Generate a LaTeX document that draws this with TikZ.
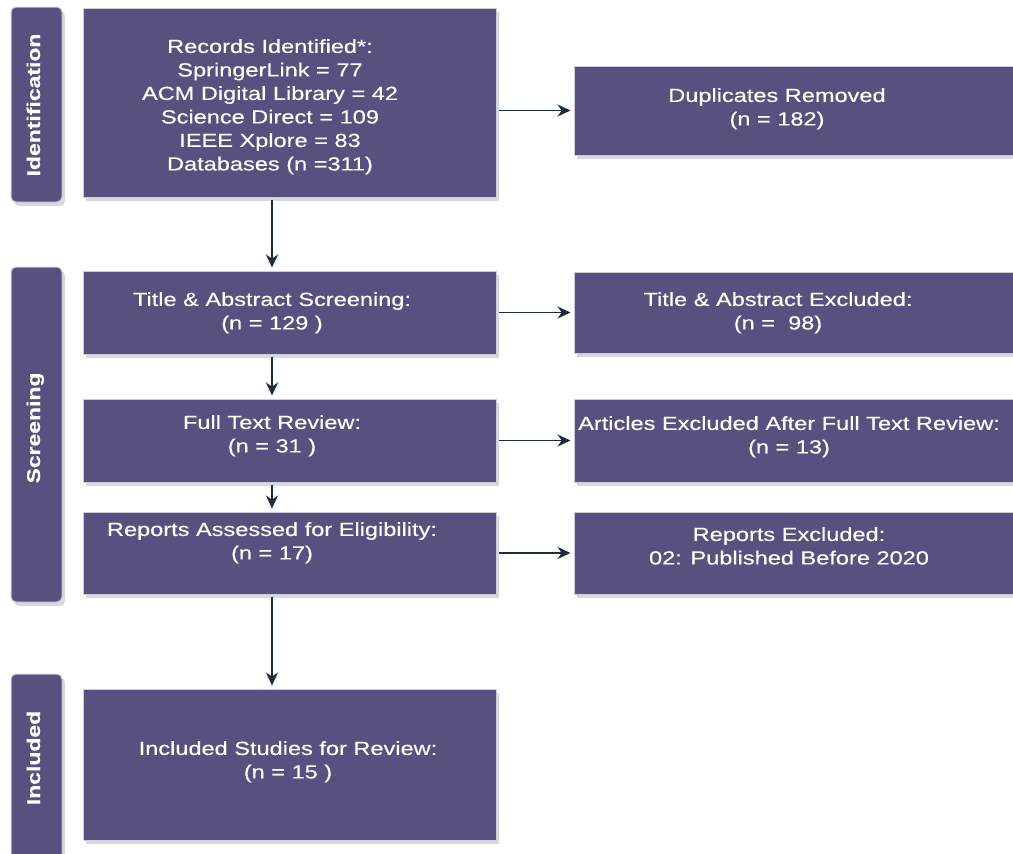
\documentclass[tikz,border=0pt]{standalone}
\usepackage{fontspec}
\setmainfont{Liberation Sans}[FakeBold=0.3]
\usepackage{graphicx}
\usepackage{tikz}
\usetikzlibrary{arrows.meta,shadows}

\definecolor{boxfill}{RGB}{88,80,126}
\definecolor{boxedge}{RGB}{205,204,214}
\definecolor{arrowcol}{RGB}{30,44,58}
\definecolor{shadowcol}{RGB}{70,80,120}

% wide lettering, stretched sideways
\newcommand{\widetext}[1]{\scalebox{1.24}[1]{\begin{tabular}{@{}c@{}}#1\end{tabular}}}

\tikzset{
    stagebox/.style={rectangle, fill=boxfill, draw=boxedge, line width=1pt,
        drop shadow={shadow xshift=3pt, shadow yshift=-4pt, opacity=.22, fill=shadowcol}},
    phasebar/.style={stagebox, rounded corners=5pt},
    boxtext/.style={text=white, align=center, inner sep=0pt,
        font=\fontsize{19}{23.5}\selectfont},
    phasetext/.style={text=white, rotate=90, inner sep=0pt,
        font=\fontsize{18.5}{20}\selectfont\bfseries},
    flow/.style={draw=arrowcol, line width=1.6pt, -{Stealth[length=13pt,width=12pt]},
        shorten <=2pt, shorten >=3pt}
}

\begin{document}
\begin{tikzpicture}[x=1pt, y=-1pt]
    \useasboundingbox (0,0) rectangle (1013,854);
    \clip (0,0) rectangle (1013,854);
    \fill[white] (0,0) rectangle (1013,854);

    % phase bars on the left
    \node[phasebar, minimum width=51pt, minimum height=195pt] (idbar) at (36.5,104.5) {};
    \node[phasebar, minimum width=51pt, minimum height=335pt] (scbar) at (36.5,434.5) {};
    \node[phasebar, minimum width=51pt, minimum height=200pt] (inbar) at (36.5,774) {};
    \node[phasetext] (idlabel) at (36,105) {\widetext{Identification}};
    \node[phasetext] (sclabel) at (36,428) {\widetext{Screening}};
    \node[phasetext] (inlabel) at (36,758) {\widetext{Included}};

    % main column
    \node[stagebox, minimum width=413pt, minimum height=189pt] (rec) at (289.5,102.5) {};
    \node[stagebox, minimum width=413pt, minimum height=83pt] (tas) at (289.5,312.5) {};
    \node[stagebox, minimum width=413pt, minimum height=83pt] (ftr) at (289.5,440.5) {};
    \node[stagebox, minimum width=413pt, minimum height=82pt] (rea) at (289.5,553) {};
    \node[stagebox, minimum width=413pt, minimum height=151pt] (inc) at (289.5,764.5) {};

    \node[boxtext] (rect) at (270,107) {\widetext{Records Identified*:\\SpringerLink = 77\\ACM Digital Library = 42\\Science Direct = 109\\IEEE Xplore = 83\\Databases (n =311)}};
    \node[boxtext] (tast) at (272,313) {\widetext{Title \& Abstract Screening:\\(n = 129 )}};
    \node[boxtext] (ftrt) at (272,436) {\widetext{Full Text Review:\\(n = 31 )}};
    \node[boxtext] (reat) at (272,543) {\widetext{Reports Assessed for Eligibility:\\(n = 17)}};
    \node[boxtext] (inct) at (288,762) {\widetext{Included Studies for Review:\\(n = 15 )}};

    % excluded column
    \node[stagebox, minimum width=456pt, minimum height=89pt] (dup) at (802,110.5) {};
    \node[stagebox, minimum width=456pt, minimum height=81pt] (tae) at (802,312.5) {};
    \node[stagebox, minimum width=456pt, minimum height=83pt] (ftx) at (802,440.5) {};
    \node[stagebox, minimum width=456pt, minimum height=82pt] (rex) at (802,553) {};

    \node[boxtext] (dupt) at (777,109) {\widetext{Duplicates Removed\\(n = 182)}};
    \node[boxtext] (taet) at (778,313) {\widetext{Title \& Abstract Excluded:\\(n = \ 98)}};
    \node[boxtext] (ftxt) at (789,437) {\widetext{Articles Excluded After Full Text Review:\\(n = 13)}};
    \node[boxtext] (rext) at (789,548) {\widetext{Reports Excluded:\\02: Published Before 2020}};

    % arrows
    \draw[flow] (rec.south -| reat) -- (tas.north -| reat);
    \draw[flow] (tas.south -| reat) -- (ftr.north -| reat);
    \draw[flow] (ftr.south -| reat) -- (rea.north -| reat);
    \draw[flow] (rea.south -| reat) -- (inc.north -| reat);
    \draw[flow] (rec.east |- dup) -- (dup.west);
    \draw[flow] (tas.east) -- (tae.west);
    \draw[flow] (ftr.east) -- (ftx.west);
    \draw[flow] (rea.east) -- (rex.west);
\end{tikzpicture}
\end{document}
